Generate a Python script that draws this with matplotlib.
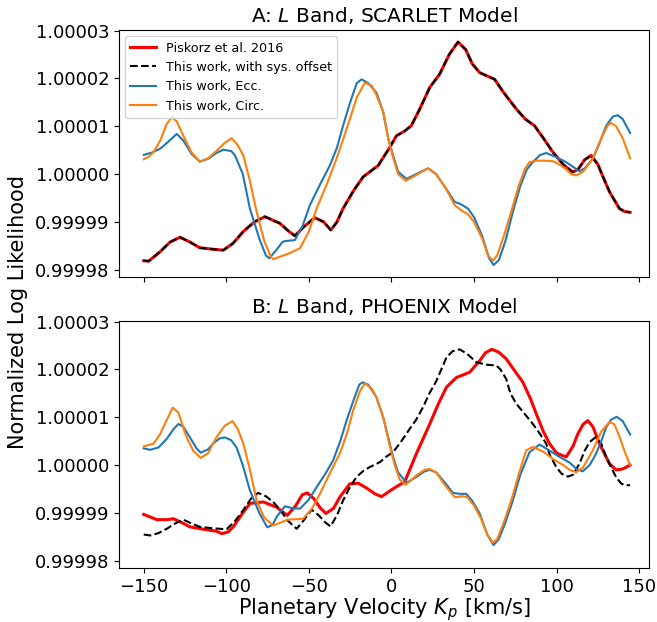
import matplotlib
matplotlib.use("Agg")
import matplotlib.pyplot as plt
import numpy as np
from matplotlib.ticker import FixedLocator, FormatStrFormatter

# values are read off the picture; likelihood offsets are in units of 1e-5 from 1
# ### panel A (SCARLET): Piskorz and "with sys. offset" overlap
a_ref_kp = [-150, -147, -140, -134, -128, -122, -116, -108, -101.8, -96, -89.7, -83, -76.6,
            -67.5, -62, -58.5, -53, -46.4, -41, -36.7, -33, -29.3, -23, -17.2, -8, -1, 3, 8,
            12, 17, 23.2, 29.2, 35, 40.3, 45, 49, 53.4, 62.5, 68, 75.6, 81, 86.6, 92, 97.7,
            104, 109.8, 113, 117, 120.9, 125, 128, 132, 138, 141, 144.5]
a_ref_ll = [-1.81, -1.82, -1.62, -1.42, -1.32, -1.42, -1.54, -1.57, -1.59, -1.45, -1.2, -1.0,
            -0.89, -1.03, -1.2, -1.29, -1.1, -0.91, -1.0, -1.17, -1.0, -0.72, -0.35, -0.06,
            0.18, 0.56, 0.80, 0.9, 1.01, 1.35, 1.81, 2.09, 2.5, 2.76, 2.6, 2.3, 2.12, 1.98,
            1.7, 1.36, 1.15, 1.01, 0.75, 0.46, 0.2, 0.04, 0.1, 0.3, 0.39, 0.2, -0.05, -0.37,
            -0.72, -0.78, -0.80]

a_ecc_kp = [-150, -145, -140, -135, -130, -126, -121, -116, -111, -106, -101.8, -97, -94.7,
            -90, -85.7, -80, -76, -74, -70, -66, -64.5, -58.5, -54, -49.4, -43, -37.3, -33,
            -29.3, -25, -21, -18.1, -14, -9.1, -5, -2, 1, 4, 9.1, 15, 22.1, 27, 33, 38.3, 42,
            46.3, 50, 55, 59, 61.8, 65, 69, 73.5, 78, 82, 85.6, 90, 93.7, 100, 105.8, 110,
            113.8, 117, 121.9, 126, 130, 134, 137, 140, 144.5]
a_ecc_ll = [0.40, 0.45, 0.53, 0.68, 0.84, 0.7, 0.42, 0.26, 0.32, 0.44, 0.51, 0.48, 0.39, 0.0,
            -0.72, -1.35, -1.7, -1.76, -1.6, -1.42, -1.40, -1.38, -1.1, -0.65, -0.2, 0.18,
            0.55, 1.01, 1.5, 1.9, 1.98, 1.9, 1.70, 1.3, 0.75, 0.39, 0.05, -0.10, 0.0, 0.12,
            0.0, -0.3, -0.58, -0.63, -0.72, -0.9, -1.3, -1.75, -1.90, -1.8, -1.4, -0.79,
            -0.25, 0.1, 0.25, 0.4, 0.44, 0.35, 0.25, 0.15, 0.06, 0.12, 0.32, 0.65, 1.01, 1.2,
            1.23, 1.15, 0.86]

a_circ_kp = [-150, -147, -144, -140, -136, -133, -130, -126, -121, -116, -111, -105.8, -101,
             -96.7, -93, -89.7, -86, -81.6, -77, -73, -71.6, -67, -61.5, -55.4, -50, -45.3,
             -39, -33.3, -29, -25.2, -21, -16.1, -12, -9.1, -5, -2, 1, 4, 8.7, 15, 22.1, 27,
             33, 38.3, 42, 46.3, 50, 55, 58.5, 61.4, 64, 68, 72.5, 77, 81, 83.6, 88, 93, 97.7,
             101.8, 105.8, 108.8, 111.8, 116, 121.9, 127, 131, 133, 136, 140, 144.5]
a_circ_ll = [0.31, 0.36, 0.46, 0.7, 1.05, 1.19, 1.1, 0.80, 0.45, 0.26, 0.33, 0.49, 0.65, 0.75,
             0.6, 0.39, -0.1, -0.79, -1.4, -1.73, -1.78, -1.72, -1.65, -1.55, -1.2, -0.72,
             -0.2, 0.32, 0.75, 1.15, 1.6, 1.91, 1.85, 1.65, 1.3, 0.75, 0.35, 0.0, -0.14, -0.02,
             0.12, 0.0, -0.3, -0.65, -0.75, -0.84, -1.0, -1.35, -1.7, -1.81, -1.7, -1.3,
             -0.79, -0.25, 0.12, 0.25, 0.28, 0.28, 0.27, 0.2, 0.1, 0.0, -0.03, 0.05, 0.32,
             0.75, 1.02, 1.07, 1.0, 0.75, 0.33]

# ### panel B (PHOENIX)
b_ref_kp = [-150, -142, -136, -132, -127, -122, -112, -106, -102.8, -99, -95.8, -90, -85.7,
            -77.6, -69.5, -63.1, -58, -54, -51, -47, -43, -39.7, -35, -31.3, -25.2, -20, -15,
            -10, -6, -1, 3, 8, 15.1, 23.2, 28, 33.3, 39.3, 47.3, 53.4, 57, 60.8, 65, 69.5, 74,
            79.6, 84, 87.7, 92, 95.7, 100, 105.8, 110, 112.8, 116, 118.9, 122, 125.9, 132,
            136, 140, 144.5]
b_ref_ll = [-1.03, -1.14, -1.14, -1.12, -1.2, -1.29, -1.35, -1.38, -1.43, -1.4, -1.29, -1.0,
            -0.80, -0.77, -0.88, -1.05, -0.85, -0.62, -0.58, -0.7, -0.9, -1.01, -0.9, -0.67,
            -0.39, -0.38, -0.48, -0.6, -0.66, -0.54, -0.45, -0.35, 0.24, 0.86, 1.25, 1.63,
            1.83, 1.94, 2.18, 2.35, 2.42, 2.36, 2.22, 2.0, 1.73, 1.4, 1.07, 0.7, 0.45, 0.25,
            0.17, 0.4, 0.65, 0.85, 0.93, 0.8, 0.45, 0.03, -0.10, -0.08, 0.0]

b_off_kp = [-150, -146, -141, -136, -131, -126, -121, -116, -108, -99.8, -95, -89.7, -85,
            -80.7, -76, -71.6, -67, -63.1, -57.4, -53, -48.4, -44, -40, -36.9, -33, -29.3,
            -25, -21.2, -17, -13.1, -7.1, -3, 1, 6, 11.1, 15, 19.1, 23, 27.2, 33.3, 37, 41.3,
            46, 51.4, 57.4, 63.5, 66, 69.5, 72, 75.6, 80, 85.6, 89, 93.7, 96, 99.8, 103,
            106.8, 110, 113.8, 117, 119.9, 123.5, 127, 130, 133, 136, 139, 141, 144.5]
b_off_ll = [-1.45, -1.47, -1.42, -1.33, -1.22, -1.14, -1.22, -1.29, -1.32, -1.34, -1.18,
            -0.94, -0.7, -0.58, -0.65, -0.77, -0.95, -1.15, -1.33, -1.15, -0.93, -1.05, -1.2,
            -1.28, -1.05, -0.74, -0.45, -0.25, -0.12, -0.04, 0.06, 0.18, 0.27, 0.5, 0.76,
            0.95, 1.21, 1.5, 1.76, 2.25, 2.38, 2.42, 2.32, 2.15, 2.10, 2.08, 2.0, 1.80, 1.5,
            1.28, 1.1, 0.86, 0.7, 0.45, 0.2, -0.04, -0.18, -0.24, -0.2, 0.03, 0.3, 0.48, 0.58,
            0.45, 0.17, -0.05, -0.25, -0.38, -0.42, -0.42]

b_ecc_kp = [-150, -146, -141, -136, -132, -129, -126, -122, -118, -115.5, -111, -108, -104,
            -100.8, -97, -93.8, -90, -85.7, -80, -75.2, -72, -69.5, -64.5, -60, -55.4, -50,
            -45.3, -40, -35.3, -31, -27.2, -23, -19.5, -17.5, -14, -9.1, -5, -1, 1, 4, 9.1,
            15, 20, 23.2, 27, 32, 37.2, 41, 45.3, 49, 53.4, 58, 61.8, 65, 69, 73.5, 78, 83.6,
            89.7, 95, 101.8, 108, 112, 115.8, 120, 123.9, 127, 130, 133, 136.4, 140, 144.5]
b_ecc_ll = [0.35, 0.32, 0.37, 0.55, 0.75, 0.86, 0.8, 0.58, 0.35, 0.26, 0.33, 0.45, 0.56,
            0.58, 0.52, 0.37, 0.0, -0.53, -1.0, -1.30, -1.25, -1.08, -0.86, -0.9, -0.91,
            -0.72, -0.46, -0.18, 0.10, 0.5, 0.93, 1.35, 1.68, 1.73, 1.68, 1.42, 1.0, 0.45,
            0.17, -0.15, -0.37, -0.25, -0.13, -0.10, -0.15, -0.35, -0.58, -0.6, -0.60, -0.75,
            -1.01, -1.45, -1.67, -1.55, -1.2, -0.74, -0.2, 0.27, 0.43, 0.32, 0.17, 0.05,
            -0.08, -0.13, 0.0, 0.24, 0.5, 0.79, 0.95, 1.01, 0.92, 0.64]

b_circ_kp = [-150, -147, -144, -140, -136, -132.4, -129, -126, -124, -120, -115.5, -111,
             -106, -101, -96.2, -93, -89.7, -86, -81.6, -77, -71.6, -67, -63.1, -58, -53.4,
             -48, -43.3, -37, -31.3, -27, -23.2, -19, -16.1, -12, -9.1, -5, -1, 2, 5, 8.6, 15,
             20, 23.2, 27, 32, 38.3, 43, 46, 50, 54, 58, 61.4, 64, 68, 72.5, 77, 81.6, 85.6,
             92, 97.7, 104, 108, 111.8, 116, 121.9, 127, 132, 135, 138, 141, 144.5]
b_circ_ll = [0.39, 0.42, 0.45, 0.65, 0.95, 1.20, 1.1, 0.78, 0.58, 0.3, 0.15, 0.25, 0.58,
             0.82, 0.92, 0.75, 0.45, -0.05, -0.74, -1.1, -1.26, -1.2, -1.14, -1.13, -1.12,
             -0.9, -0.60, -0.15, 0.24, 0.65, 1.14, 1.55, 1.71, 1.6, 1.42, 1.0, 0.4, 0.0, -0.3,
             -0.41, -0.22, -0.1, -0.08, -0.15, -0.4, -0.67, -0.65, -0.67, -0.85, -1.1, -1.45,
             -1.62, -1.55, -1.2, -0.74, -0.2, 0.31, 0.38, 0.28, 0.13, 0.0, -0.1, -0.15, -0.05,
             0.31, 0.7, 0.90, 0.85, 0.6, 0.3, 0.0]

titles = ["A: $L$ Band, SCARLET Model", "B: $L$ Band, PHOENIX Model"]
labels = ["Piskorz et al. 2016", "This work, with sys. offset", "This work, Ecc.", "This work, Circ."]
y_ticks = [0.99998, 0.99999, 1.00000, 1.00001, 1.00002, 1.00003]
x_ticks = [-150, -100, -50, 0, 50, 100, 150]


def ll(vals):
    return 1.0 + np.array(vals) * 1e-5


panels = [
    (a_ref_kp, a_ref_ll, a_ref_kp, a_ref_ll, a_ecc_kp, a_ecc_ll, a_circ_kp, a_circ_ll),
    (b_ref_kp, b_ref_ll, b_off_kp, b_off_ll, b_ecc_kp, b_ecc_ll, b_circ_kp, b_circ_ll),
]

fig = plt.figure(figsize=(6.57, 6.22), dpi=100)
ax_top = fig.add_axes([0.181, 0.5547, 0.807, 0.397])
ax_bot = fig.add_axes([0.181, 0.0868, 0.807, 0.397])

line_kw = dict(solid_joinstyle="round", dash_joinstyle="round")
for ax, title, p in zip([ax_top, ax_bot], titles, panels):
    ax.plot(p[0], ll(p[1]), color="red", lw=2.2, label=labels[0], **line_kw)
    ax.plot(p[2], ll(p[3]), color="k", lw=1.5, linestyle="--", label=labels[1], **line_kw)
    ax.plot(p[4], ll(p[5]), color="C0", lw=1.5, label=labels[2], **line_kw)
    ax.plot(p[6], ll(p[7]), color="C1", lw=1.5, label=labels[3], **line_kw)
    ax.set_xlim(-165, 156)
    ax.set_ylim(0.9999785, 1.0000301)
    ax.xaxis.set_major_locator(FixedLocator(x_ticks))
    ax.yaxis.set_major_locator(FixedLocator(y_ticks))
    ax.yaxis.set_major_formatter(FormatStrFormatter("%.5f"))
    ax.tick_params(axis="both", which="major", labelsize=13)
    ax.set_title(title, fontsize=14.5)

ax_top.tick_params(axis="x", labelbottom=False)
ax_top.legend(loc="upper left", fontsize=9.2)
ax_bot.set_xlabel("Planetary Velocity $K_p$ [km/s]", fontsize=15, labelpad=0)
fig.text(0.028, 0.498, "Normalized Log Likelihood", rotation=90, fontsize=15,
         ha="center", va="center")

fig.savefig("out.png", dpi=100)
